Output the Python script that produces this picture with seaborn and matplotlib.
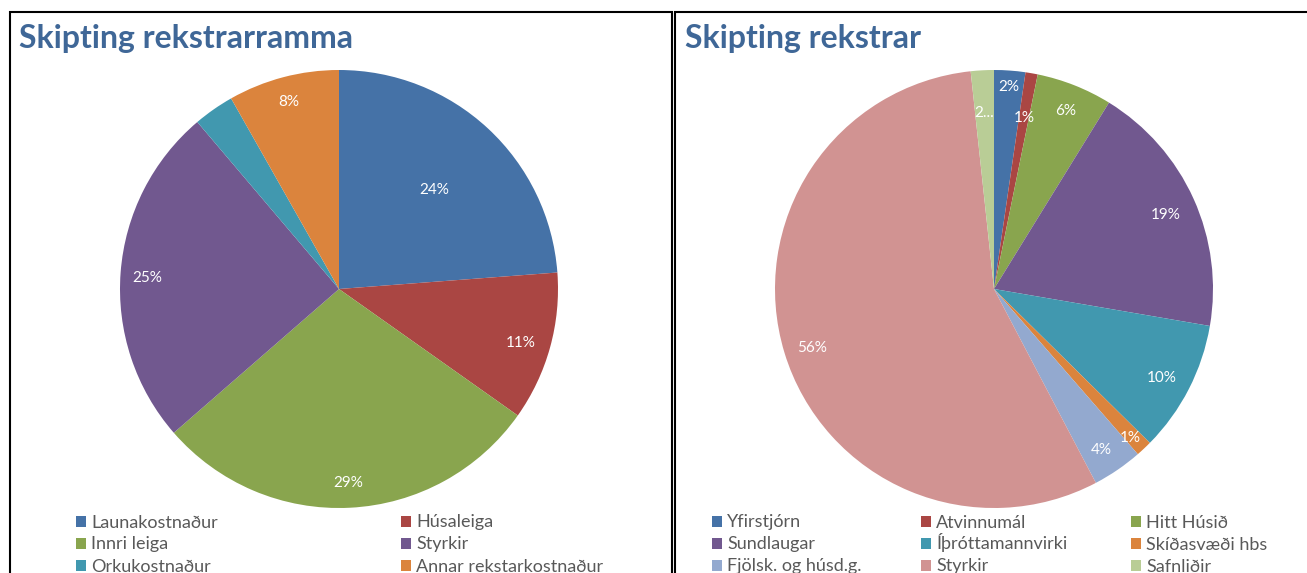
import numpy as np
import seaborn as sns
import matplotlib.pyplot as plt
from matplotlib.patches import Rectangle, Patch

# left chart: Skipting rekstrarramma
left_categories = ['Launakostnaður', 'Húsaleiga', 'Innri leiga', 'Styrkir',
                   'Orkukostnaður', 'Annar rekstarkostnaður']
left_values = [23.8, 11.0, 28.8, 25.2, 3.0, 8.2]
left_labels = ['24%', '11%', '29%', '25%', '', '8%']

# right chart: Skipting rekstrar
right_categories = ['Yfirstjórn', 'Atvinnumál', 'Hitt Húsið', 'Sundlaugar',
                    'Íþróttamannvirki', 'Skíðasvæði hbs', 'Fjölsk. og húsd.g.',
                    'Styrkir', 'Safnliðir']
right_values = [2.3, 0.9, 5.6, 18.9, 9.7, 1.2, 3.7, 56.0, 1.7]
right_labels = ['2%', '1%', '6%', '19%', '10%', '1%', '4%', '56%', '2...']

palette = ['#4572A7', '#AA4643', '#89A54E', '#71588F', '#4198AF',
           '#DB843D', '#93A9CF', '#D19392', '#B9CD96']

W, H = 1307, 573
TITLE_COLOR = '#3F6797'
TEXT_GREY = '#595959'


def px_rect(x0, y0, x1, y1):
    # pixel box (top-left origin) -> figure fraction rect
    return [x0 / W, 1 - y1 / H, (x1 - x0) / W, (y1 - y0) / H]


def draw_pie(ax, values, colors, pct_labels, label_dist):
    wedges, _ = ax.pie(values, colors=colors, startangle=90, counterclock=False,
                       wedgeprops=dict(linewidth=0))
    for w, lab, d in zip(wedges, pct_labels, label_dist):
        ang = np.deg2rad((w.theta1 + w.theta2) / 2)
        ax.text(d * np.cos(ang), d * np.sin(ang) - 0.015, lab, ha='center',
                va='center', color='white', fontsize=11)
    ax.set_xlim(-1, 1)
    ax.set_ylim(-1, 1)
    return wedges


def legend_grid(fig, categories, colors, ncol, xs, ys):
    # one small legend per entry so every row lines up like the Excel legend
    for i, (name, col) in enumerate(zip(categories, colors)):
        x, y = xs[i % ncol], ys[i // ncol]
        leg = fig.legend([Patch(facecolor=col, edgecolor='none')], [name],
                         loc='lower left', bbox_to_anchor=(x / W, 1 - y / H),
                         frameon=False, fontsize=13, borderpad=0,
                         borderaxespad=0, handlelength=0.55, handleheight=0.55,
                         handletextpad=0.3)
        leg.get_texts()[0].set_color(TEXT_GREY)


sns.set_theme(style='white')
plt.rcParams['font.family'] = ['Lato', 'DejaVu Sans']

fig = plt.figure(figsize=(W / 100, H / 100), dpi=100)

# panel frames
fig.add_artist(Rectangle((10 / W, -0.1), (672 - 10) / W, 1.1 - 12 / H,
                         transform=fig.transFigure, fill=False,
                         edgecolor='black', linewidth=1.5))
fig.add_artist(Rectangle((675 / W, -0.1), 0.2 + (W - 675) / W, 1.1 - 12 / H,
                         transform=fig.transFigure, fill=False,
                         edgecolor='black', linewidth=1.5))

fig.text(19 / W, 1 - 48 / H, 'Skipting rekstrarramma', fontsize=23,
         fontweight='bold', color=TITLE_COLOR, va='baseline')
fig.text(685 / W, 1 - 48 / H, 'Skipting rekstrar', fontsize=23,
         fontweight='bold', color=TITLE_COLOR, va='baseline')

# bottom edge of each legend row, in pixels from the top
row_bottom = [530.5, 552.5, 574.5]

ax1 = fig.add_axes(px_rect(120, 70, 558, 508))
draw_pie(ax1, left_values, palette[:6], left_labels,
         [0.64, 0.86, 0.87, 0.88, 0.9, 0.9])
legend_grid(fig, left_categories, palette, 2, [76, 401], row_bottom)

ax2 = fig.add_axes(px_rect(775, 70, 1213, 508))
draw_pie(ax2, right_values, palette, right_labels,
         [0.94, 0.81, 0.89, 0.86, 0.86, 0.91, 0.87, 0.87, 0.82])
legend_grid(fig, right_categories, palette, 3, [712, 921, 1131], row_bottom)

fig.savefig('out.png', dpi=100)
